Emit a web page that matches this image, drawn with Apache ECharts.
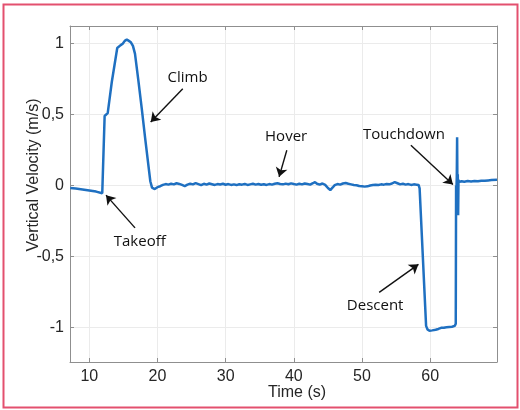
<!DOCTYPE html>
<html>
<head>
<meta charset="utf-8">
<script src="https://cdn.jsdelivr.net/npm/echarts@6/dist/echarts.min.js"></script>
<style>
  html, body { margin: 0; padding: 0; background: #ffffff; }
  #chart { width: 520px; height: 410px; }
</style>
</head>
<body>
<div id="chart"></div>
<script>
// Flight log: vertical velocity over time (s)
const times = [
  7.2, 8.0, 9.0, 10.0, 11.0, 11.9, 12.0, 12.25, 12.4, 12.7,
  13.0, 13.3, 13.7, 14.1, 14.3, 14.6, 14.9, 15.2, 15.5, 15.8,
  16.1, 16.4, 16.7, 17.2, 17.7, 18.2, 18.7, 18.95, 19.2, 19.6,
  20.0, 20.4, 20.8, 21.2, 21.6, 22.0, 22.4, 22.8, 23.2, 23.6,
  24.0, 24.4, 24.8, 25.2, 25.6, 26.0, 26.4, 26.8, 27.2, 27.6,
  28.0, 28.4, 28.8, 29.2, 29.6, 30.0, 30.4, 30.8, 31.2, 31.6,
  32.0, 32.4, 32.8, 33.2, 33.6, 34.0, 34.4, 34.8, 35.2, 35.6,
  36.0, 36.4, 36.8, 37.2, 37.6, 38.0, 38.4, 38.8, 39.2, 39.6,
  40.0, 40.4, 40.8, 41.2, 41.6, 42.0, 42.4, 42.8, 43.1, 43.4,
  43.8, 44.2, 44.6, 45.0, 45.35, 45.7, 46.0, 46.4, 46.8, 47.2,
  47.6, 48.0, 48.4, 48.8, 49.2, 49.6, 50.0, 50.4, 50.8, 51.2,
  51.6, 52.0, 52.4, 52.8, 53.2, 53.6, 54.0, 54.4, 54.8, 55.2,
  55.6, 56.0, 56.4, 56.8, 57.2, 57.6, 58.0, 58.3, 58.45, 59.4,
  59.6, 59.9, 60.3, 60.8, 61.2, 61.6, 62.0, 62.4, 62.8, 63.2,
  63.6, 63.75, 63.8, 63.85, 63.9, 63.95, 64.0, 64.05, 64.1, 64.15,
  64.2, 64.6, 65.0, 65.5, 66.0, 66.5, 67.0, 67.5, 68.0, 68.5,
  69.0, 69.8
];
const velocity = [
  -0.018, -0.022, -0.028, -0.035, -0.043, -0.055, -0.05, 0.49, 0.50, 0.51,
  0.62, 0.73, 0.85, 0.97, 0.975, 0.99, 1.00, 1.02, 1.03, 1.02,
  1.01, 0.985, 0.93, 0.74, 0.54, 0.33, 0.13, 0.03, -0.015, -0.025,
  -0.012, -0.005, 0.004, 0.010, 0.006, 0.012, 0.008, 0.016, 0.011, 0.004,
  -0.004, 0.006, 0.012, 0.008, 0.017, 0.010, 0.003, 0.012, 0.006, 0.014,
  0.009, 0.004, 0.010, 0.007, 0.012, 0.005, 0.010, 0.004, 0.008, 0.003,
  0.009, 0.006, 0.011, 0.004, 0.008, 0.012, 0.006, 0.010, 0.005, 0.009,
  0.004, 0.010, 0.006, 0.012, 0.016, 0.011, 0.008, 0.013, 0.009, 0.015,
  0.010, 0.006, 0.012, 0.008, 0.014, 0.010, 0.006, 0.016, 0.024, 0.012,
  0.006, 0.014, 0.004, -0.018, -0.032, -0.014, 0.002, 0.010, 0.006, 0.014,
  0.018, 0.012, 0.008, 0.004, 0.002, -0.004, -0.006, -0.008, -0.006, 0.000,
  0.004, 0.006, 0.004, 0.008, 0.006, 0.010, 0.008, 0.014, 0.024, 0.016,
  0.008, 0.012, 0.006, 0.010, 0.004, 0.008, 0.006, 0.004, -0.02, -0.99,
  -1.015, -1.025, -1.022, -1.018, -1.012, -1.004, -1.003, -1.000, -0.998, -0.996,
  -0.99, -0.975, 0.0, -0.03, 0.06, 0.34, -0.05, 0.08, -0.21, 0.04,
  0.025, 0.03, 0.026, 0.031, 0.028, 0.032, 0.030, 0.034, 0.033, 0.036,
  0.038, 0.04
];

// Annotation texts, their anchor points and arrow (tail -> head), in data units
const noteLabels = ['Climb', 'Hover', 'Touchdown', 'Takeoff', 'Descent'];
const noteText = [[24.41, 0.759], [38.87, 0.344], [56.15, 0.356], [17.40, -0.397], [51.93, -0.850]];
const arrowTail = [[23.71, 0.683], [38.97, 0.249], [57.17, 0.284], [16.71, -0.299], [52.52, -0.754]];
const arrowHead = [[19.01, 0.448], [37.84, 0.061], [63.33, 0.007], [12.45, -0.068], [58.28, -0.556]];

// Axis settings
const xMin = 7.17, xMax = 69.8, xStep = 10;
const yMin = -1.245, yMax = 1.125, yStep = 0.5;

const series = times.map((t, i) => [t, velocity[i]]);

const axisFont = 'Liberation Sans, Arial, Helvetica, sans-serif';
const axisGray = '#8f8f8f';
const gridGray = '#ebebeb';

function isStep(v, step) {
  const k = v / step;
  return Math.abs(k - Math.round(k)) < 1e-6;
}

const chart = echarts.init(document.getElementById('chart'), null, { renderer: 'canvas' });

const baseX = {
  type: 'value', min: xMin, max: xMax,
  axisLine: { show: true, onZero: false, lineStyle: { color: axisGray, width: 1 } },
  axisTick: { show: true, inside: true, length: 4, lineStyle: { color: axisGray } },
  splitLine: { show: false }
};
const baseY = {
  type: 'value', min: yMin, max: yMax,
  axisLine: { show: true, onZero: false, lineStyle: { color: axisGray, width: 1 } },
  axisTick: { show: true, inside: true, length: 4, lineStyle: { color: axisGray } },
  splitLine: { show: false }
};

chart.setOption({
  animation: false,
  backgroundColor: '#ffffff',
  grid: { left: 70, right: 23, top: 26, bottom: 48, containLabel: false },
  xAxis: [
    Object.assign({}, baseX, {
      position: 'bottom',
      splitLine: { show: true, lineStyle: { color: gridGray, width: 1 } },
      axisLabel: {
        show: true, margin: 7, color: '#262626', fontSize: 16, fontFamily: axisFont,
        showMinLabel: false, showMaxLabel: false,
        formatter: v => isStep(v, xStep) ? String(Math.round(v)) : ''
      }
    }),
    Object.assign({}, baseX, { position: 'top', axisLabel: { show: false } })
  ],
  yAxis: [
    Object.assign({}, baseY, {
      position: 'left',
      splitLine: { show: true, lineStyle: { color: gridGray, width: 1 } },
      axisLabel: {
        show: true, margin: 6, color: '#262626', fontSize: 16, fontFamily: axisFont,
        showMinLabel: false, showMaxLabel: false,
        formatter: v => isStep(v, yStep) ? String(+v.toFixed(2)).replace('.', ',') : ''
      }
    }),
    Object.assign({}, baseY, { position: 'right', axisLabel: { show: false } })
  ],
  graphic: [
    {
      type: 'rect', silent: true,
      shape: { x: 3.5, y: 4.5, width: 514, height: 403 },
      style: { fill: 'none', stroke: '#e3506f', lineWidth: 2 }
    },
    {
      type: 'text', x: 33.5, y: 175, rotation: Math.PI / 2,
      style: {
        text: 'Vertical Velocity (m/s)', fill: '#262626',
        font: '16px ' + axisFont, textAlign: 'center', textVerticalAlign: 'middle'
      }
    },
    {
      type: 'text', x: 297, y: 393,
      style: {
        text: 'Time (s)', fill: '#262626',
        font: '16px ' + axisFont, textAlign: 'center', textVerticalAlign: 'middle'
      }
    }
  ],
  series: [{
    type: 'line',
    xAxisIndex: 0, yAxisIndex: 0,
    data: series,
    showSymbol: false,
    symbol: 'none',
    clip: true,
    lineStyle: { color: '#1f70c1', width: 2.5 },
    z: 3,
    markLine: {
      silent: true,
      symbol: ['none', 'arrow'],
      symbolSize: 9,
      label: { show: false },
      lineStyle: { color: '#111111', width: 1.4, type: 'solid' },
      data: arrowTail.map((p, i) => [
        { coord: p },
        { coord: arrowHead[i] }
      ])
    },
    markPoint: {
      silent: true,
      symbol: 'circle',
      symbolSize: 0,
      itemStyle: { color: 'rgba(0,0,0,0)' },
      label: {
        show: true, position: 'inside', color: '#111111',
        fontSize: 15, fontWeight: 500, fontFamily: 'Open Sans, Lato, sans-serif',
        formatter: p => p.name
      },
      data: noteLabels.map((name, i) => ({ name: name, coord: noteText[i] }))
    }
  }]
});
</script>
</body>
</html>
